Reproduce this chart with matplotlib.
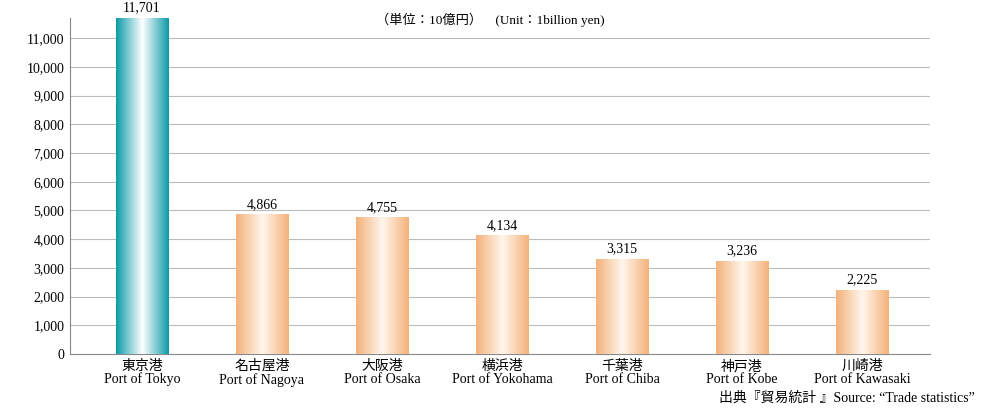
import matplotlib
matplotlib.use("Agg")
import matplotlib.pyplot as plt
import numpy as np
from matplotlib.colors import LinearSegmentedColormap

plt.rcParams['font.family'] = ['Liberation Serif', 'Noto Sans CJK JP']

ports_jp = ["東京港", "名古屋港", "大阪港", "横浜港", "千葉港", "神戸港", "川崎港"]
ports_en = ["Port of Tokyo", "Port of Nagoya", "Port of Osaka", "Port of Yokohama",
            "Port of Chiba", "Port of Kobe", "Port of Kawasaki"]
values = [11701, 4866, 4755, 4134, 3315, 3236, 2225]
yticks = list(range(0, 11001, 1000))

W, H = 983, 411
fig = plt.figure(figsize=(W / 100, H / 100), dpi=100)
ax = fig.add_axes([70 / W, (H - 354) / H, 860 / W, (354 - 18) / H])

teal = LinearSegmentedColormap.from_list("t", ["#0b9aa8", "#ffffff", "#0b9aa8"])
peach = LinearSegmentedColormap.from_list("p", ["#f4b27a", "#fff6ec", "#f4b27a"])
grad = np.linspace(0, 1, 256).reshape(1, -1)

bw = 0.44
for i, v in enumerate(values):
    cmap = teal if i == 0 else peach
    rect = plt.Rectangle((i - bw / 2, 0), bw, v, facecolor="none", edgecolor="none")
    ax.add_patch(rect)
    im = ax.imshow(grad, cmap=cmap, extent=(i - bw / 2, i + bw / 2, 0, v),
                   aspect="auto", zorder=3)
    im.set_clip_path(rect)
    ax.text(i, v + 120, f"{v:,}", ha="center", va="bottom", fontsize=10, zorder=4)

ax.set_xlim(-0.6, 6.567)
ax.set_ylim(0, 11701)
ax.set_yticks(yticks)
ax.set_yticklabels([f"{t:,}" for t in yticks], fontsize=10)
ax.set_xticks(range(len(values)))
ax.set_xticklabels([f"{j}\n{e}" for j, e in zip(ports_jp, ports_en)], fontsize=10, linespacing=1.0)
ax.tick_params(axis="both", length=0, pad=4)
ax.grid(axis="y", color="#bbbbbb", linewidth=0.8, zorder=0)
ax.set_axisbelow(True)
for s in ["top", "right"]:
    ax.spines[s].set_visible(False)
ax.spines["left"].set_color("#888888")
ax.spines["bottom"].set_color("#888888")

fig.text(490 / W, 1 - 20 / H, "（単位：10億円）　(Unit：1billion yen)", ha="center", va="center", fontsize=9.5)
fig.text(975 / W, 1 - 398 / H, "出典『貿易統計 』Source: “Trade statistics”", ha="right", va="center", fontsize=10)

fig.savefig("out.png", dpi=100)
